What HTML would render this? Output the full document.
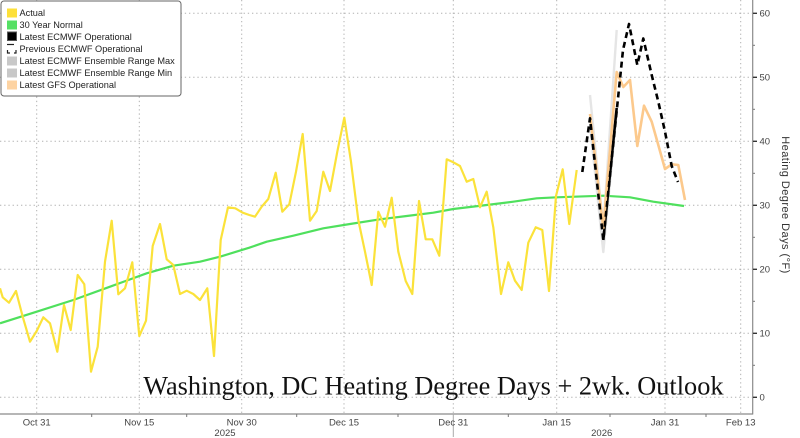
<!DOCTYPE html>
<html><head><meta charset="utf-8"><style>
html,body{margin:0;padding:0;background:#fff;}
svg{display:block;font-family:"Liberation Sans",Arial,sans-serif;}
</style></head><body>
<svg width="800" height="438" viewBox="0 0 800 438" xmlns="http://www.w3.org/2000/svg">
<rect width="800" height="438" fill="#fff"/>
<!-- grid -->
<g stroke="#b0b0b0" stroke-width="1" stroke-dasharray="1.3 2.9" fill="none">
<line x1="0" y1="397.3" x2="752" y2="397.3"/>
<line x1="0" y1="333.3" x2="752" y2="333.3"/>
<line x1="0" y1="269.3" x2="752" y2="269.3"/>
<line x1="0" y1="205.3" x2="752" y2="205.3"/>
<line x1="0" y1="141.3" x2="752" y2="141.3"/>
<line x1="0" y1="77.3" x2="752" y2="77.3"/>
<line x1="0" y1="13.3" x2="752" y2="13.3"/>
<line x1="36.7" y1="0" x2="36.7" y2="414"/>
<line x1="139.3" y1="0" x2="139.3" y2="414"/>
<line x1="241.7" y1="0" x2="241.7" y2="414"/>
<line x1="344" y1="0" x2="344" y2="414"/>
<line x1="453.3" y1="0" x2="453.3" y2="414"/>
<line x1="556.7" y1="0" x2="556.7" y2="414"/>
<line x1="665" y1="0" x2="665" y2="414"/>
<line x1="740.7" y1="0" x2="740.7" y2="414"/>
</g>
<!-- title -->
<text x="143.3" y="394.3" font-family="'Liberation Serif','Times New Roman',serif" font-size="26.3" fill="#111">Washington, DC Heating Degree Days + 2wk. Outlook</text>
<!-- normal -->
<polyline fill="none" stroke="#4fe05d" stroke-width="2.2" stroke-linejoin="round" points="0,323.3 36.7,311.7 73.3,300 110,286.7 146.7,273.3 173.3,265.7 200,261.7 220,256.7 249.3,247.7 266.7,241.7 293.3,235.7 323.3,228.3 350,224 380,219.3 406.7,216 433.3,212.7 453.3,209 486.7,205 513.3,201.7 536.7,198.3 556.7,197.3 603.3,195.7 630,197.3 653.3,201.7 684,206"/>
<!-- actual -->
<polyline fill="none" stroke="#fbe23a" stroke-width="2.2" stroke-linejoin="round" points="0,288.3 2.7,297.3 9,302.7 16,291 22.7,316.7 30,341.7 36.7,331 43.3,317.3 50,323.3 57.3,351.7 64,305 70.7,330 77.7,275 84.3,284.3 91,371.7 97.7,346.7 105,261.7 111.7,220.7 118.3,294.3 125,288.3 132.3,262.3 139.3,336 146,320.7 152.7,246 160,224 166.7,259.3 173.3,265 180,294 186.7,290.7 193.3,294 200,300 207.3,288.3 214,356 220.7,240 228,207.3 235.3,208.3 242.7,212.7 249.3,215 255,216.7 261.7,206.7 268.3,199 275.7,172.7 282.3,211.7 289.3,204.3 296,171.7 302.7,134 310,220.7 316.7,211 323.3,171.7 330,191 337.3,151.7 344.3,117.7 351,161.7 358.3,220 365,251.7 371.7,285 378.3,211.7 385,226.7 391.7,197.7 398.3,251.7 405.7,281 412.3,294 419,201 425.7,239.3 432.3,239.3 439.3,255.7 446.7,159.3 453.3,162.3 460,166 466.7,181.7 473.3,179 480,207.3 486.7,191.7 493.3,227.3 501,294 508.3,262.3 515,280.7 521.7,290 528.3,242.7 535.7,227.3 542.3,230 549,291 556,196 562.7,169.3 569.3,224 576.7,170"/>
<!-- ensemble range -->
<g fill="none" stroke="#dcdcdc" stroke-width="2.4" stroke-opacity="0.75" stroke-linejoin="round">
<polyline points="590,95 603.3,228 616.7,30"/>
<polyline points="590,125 603.3,252 616.7,112"/>
</g>
<!-- latest ECMWF -->
<polyline fill="none" stroke="#000" stroke-width="2.6" stroke-linejoin="round" points="603.3,240 616.7,108"/>
<!-- GFS -->
<polyline fill="none" stroke="#fcc98c" stroke-width="2.6" stroke-linejoin="round" points="590,114 603.3,228 616.7,72 623.3,87 630,80 637.3,146 644,105.7 651.7,121.7 658.3,145 665,169 671.7,164.3 678.3,165 685,200"/>
<!-- previous ECMWF dashed -->
<polyline fill="none" stroke="#000" stroke-width="2.6" stroke-dasharray="6 4" stroke-linejoin="round" points="582.3,172 590,118.3 603.3,240 616.7,111 623,50 629,24 637.3,65 643.3,38.5 651.7,75 658.3,101.7 665,131.7 671.7,166 678,182"/>
<!-- axes -->
<line x1="752.7" y1="0" x2="752.7" y2="414.5" stroke="#8a8a8a" stroke-width="1.2"/>
<line x1="0" y1="414" x2="753" y2="414" stroke="#8a8a8a" stroke-width="1.2"/>
<g stroke="#333" stroke-width="1.4">
<line x1="753" y1="397.3" x2="757" y2="397.3"/>
<line x1="753" y1="333.3" x2="757" y2="333.3"/>
<line x1="753" y1="269.3" x2="757" y2="269.3"/>
<line x1="753" y1="205.3" x2="757" y2="205.3"/>
<line x1="753" y1="141.3" x2="757" y2="141.3"/>
<line x1="753" y1="77.3" x2="757" y2="77.3"/>
<line x1="753" y1="13.3" x2="757" y2="13.3"/>
</g>
<g stroke="#777" stroke-width="1">
<line x1="753" y1="365.3" x2="755" y2="365.3"/>
<line x1="753" y1="301.3" x2="755" y2="301.3"/>
<line x1="753" y1="237.3" x2="755" y2="237.3"/>
<line x1="753" y1="173.3" x2="755" y2="173.3"/>
<line x1="753" y1="109.3" x2="755" y2="109.3"/>
<line x1="753" y1="45.3" x2="755" y2="45.3"/>
</g>
<g font-size="9.5" fill="#444">
<text x="759.5" y="400.6">0</text>
<text x="759.5" y="336.6">10</text>
<text x="759.5" y="272.6">20</text>
<text x="759.5" y="208.6">30</text>
<text x="759.5" y="144.6">40</text>
<text x="759.5" y="80.6">50</text>
<text x="759.5" y="16.6">60</text>
</g>
<text transform="translate(782,205) rotate(90)" text-anchor="middle" font-size="11" letter-spacing="0.45" fill="#333">Heating Degree Days (°F)</text>
<!-- x ticks -->
<g stroke="#777" stroke-width="1">
<line x1="91.7" y1="414" x2="91.7" y2="417"/>
<line x1="186.7" y1="414" x2="186.7" y2="417"/>
<line x1="296.7" y1="414" x2="296.7" y2="417"/>
<line x1="398" y1="414" x2="398" y2="417"/>
<line x1="508.3" y1="414" x2="508.3" y2="417"/>
<line x1="610" y1="414" x2="610" y2="417"/>
<line x1="706" y1="414" x2="706" y2="417"/>
<line x1="453.3" y1="414" x2="453.3" y2="437" stroke="#aaa"/>
</g>
<g font-size="9.5" fill="#444" text-anchor="middle">
<text x="36.7" y="425.5">Oct 31</text>
<text x="139.3" y="425.5">Nov 15</text>
<text x="241.7" y="425.5">Nov 30</text>
<text x="344" y="425.5">Dec 15</text>
<text x="453.3" y="425.5">Dec 31</text>
<text x="556.7" y="425.5">Jan 15</text>
<text x="665" y="425.5">Jan 31</text>
<text x="740.7" y="425.5">Feb 13</text>
<text x="225" y="436">2025</text>
<text x="601.7" y="436">2026</text>
</g>
<!-- legend -->
<rect x="1" y="1" width="180" height="95" rx="3" ry="3" fill="#fff" stroke="#666" stroke-width="1"/>
<rect x="7" y="8.5" width="10" height="9" fill="#fde03a"/>
<rect x="7" y="20.5" width="10" height="9" fill="#55e064"/>
<rect x="7.5" y="32" width="9" height="8.5" fill="#000" stroke="#555" stroke-width="1"/>
<g stroke="#222" stroke-width="1.2" fill="none">
<line x1="7" y1="44.5" x2="14" y2="44.5"/>
<polyline points="7.5,50 7.5,53 10,53"/>
<polyline points="16,50 16,53 14,53"/>
</g>
<rect x="7" y="56.5" width="10" height="9" fill="#c8c8c8"/>
<rect x="7" y="68.5" width="10" height="9" fill="#c8c8c8"/>
<rect x="7" y="80.5" width="10" height="9" fill="#fdd3a2"/>
<g font-size="9.2" fill="#222">
<text x="19.5" y="16">Actual</text>
<text x="19.5" y="28">30 Year Normal</text>
<text x="19.5" y="40">Latest ECMWF Operational</text>
<text x="19.5" y="52">Previous ECMWF Operational</text>
<text x="19.5" y="64">Latest ECMWF Ensemble Range Max</text>
<text x="19.5" y="76">Latest ECMWF Ensemble Range Min</text>
<text x="19.5" y="88">Latest GFS Operational</text>
</g>
</svg>
</body></html>
